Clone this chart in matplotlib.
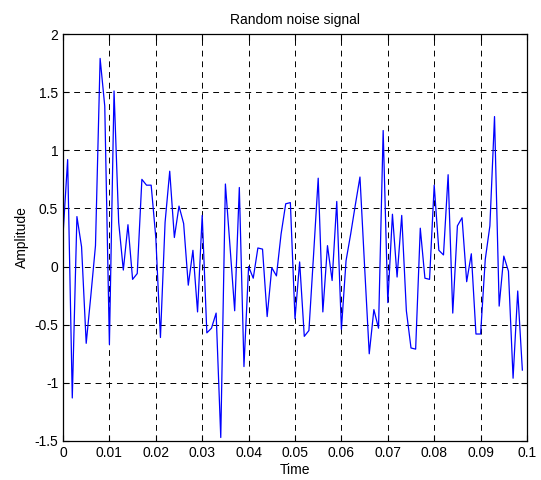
import matplotlib
matplotlib.use("Agg")
import matplotlib.pyplot as plt
import numpy as np

plt.rcParams['font.family'] = ['Liberation Sans', 'DejaVu Sans']

# sample times 0 .. 0.099 s, step 1 ms
time = np.arange(100) * 0.001

amplitude = [
    0.27, 0.92, -1.13, 0.43, 0.17, -0.66, -0.25, 0.18, 1.79, 1.38,
    -0.67, 1.51, 0.38, -0.03, 0.36, -0.11, -0.06, 0.75, 0.70, 0.70,
    0.25, -0.61, 0.38, 0.82, 0.25, 0.52, 0.37, -0.16, 0.14, -0.39,
    0.44, -0.57, -0.53, -0.40, -1.47, 0.71, 0.17, -0.38, 0.68, -0.86,
    0.00, -0.10, 0.16, 0.15, -0.43, -0.01, -0.08, 0.28, 0.54, 0.55,
    -0.45, 0.04, -0.60, -0.55, 0.10, 0.76, -0.39, 0.18, -0.12, 0.56,
    -0.54, 0.05, 0.28, 0.53, 0.77, 0.00, -0.75, -0.37, -0.53, 1.17,
    -0.31, 0.45, -0.09, 0.44, -0.38, -0.70, -0.71, 0.33, -0.10, -0.11,
    0.70, 0.14, 0.10, 0.79, -0.40, 0.35, 0.42, -0.13, 0.11, -0.58,
    -0.58, 0.06, 0.35, 1.29, -0.34, 0.09, -0.04, -0.96, -0.21, -0.89,
]

xticks = np.arange(0, 0.1001, 0.01)
xticklabels = ['0', '0.01', '0.02', '0.03', '0.04', '0.05', '0.06', '0.07', '0.08', '0.09', '0.1']
yticks = np.arange(-1.5, 2.01, 0.5)
yticklabels = ['-1.5', '-1', '-0.5', '0', '0.5', '1', '1.5', '2']

fig = plt.figure(figsize=(5.41, 4.80), dpi=100)
ax = fig.add_axes([63 / 541, 1 - 441 / 480, (527 - 63) / 541, (441 - 34) / 480])

ax.plot(time, amplitude, color='#0000ff', linewidth=0.9)

ax.set_xlim(0, 0.1)
ax.set_ylim(-1.5, 2)
ax.set_xticks(xticks)
ax.set_xticklabels(xticklabels)
ax.set_yticks(yticks)
ax.set_yticklabels(yticklabels)
ax.tick_params(direction='in', top=True, right=True, labelsize=10, length=4, width=0.8)
ax.grid(True, color='black', linestyle=(0, (6, 5)), linewidth=0.7)

for s in ax.spines.values():
    s.set_linewidth(0.9)

ax.set_title("Random noise signal", fontsize=10, pad=7)
ax.set_xlabel("Time", fontsize=10, labelpad=2)
ax.set_ylabel("Amplitude", fontsize=10, labelpad=4)

fig.savefig("out.png", dpi=100)
